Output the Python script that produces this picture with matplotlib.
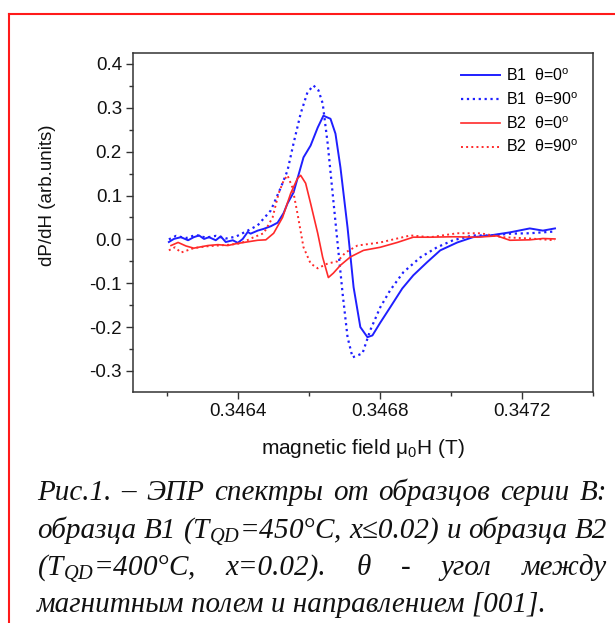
import numpy as np
import matplotlib
matplotlib.use("Agg")
import matplotlib.pyplot as plt
from matplotlib.ticker import MultipleLocator, FixedLocator, FormatStrFormatter
from matplotlib.lines import Line2D

plt.rcParams['font.family'] = ['Liberation Sans', 'DejaVu Sans']
plt.rcParams['mathtext.fontset'] = 'custom'
plt.rcParams['mathtext.rm'] = 'Liberation Sans'
plt.rcParams['mathtext.default'] = 'regular'
plt.rcParams['axes.unicode_minus'] = False

## EPR spectra: field in T, dP/dH in arb. units

# B1, theta = 0 (solid blue)
field_b1_0 = [0.346206, 0.346220, 0.346240, 0.346260, 0.346276, 0.346291, 0.346305,
              0.346319, 0.346338, 0.346352, 0.346366, 0.346386, 0.346400, 0.346414,
              0.346428, 0.346436, 0.346456, 0.346473, 0.346493, 0.346512, 0.346529,
              0.346540, 0.346557, 0.346585, 0.346605, 0.346625, 0.346641, 0.346661,
              0.346675, 0.346689, 0.346709, 0.346726, 0.346745, 0.346765, 0.346779,
              0.346801, 0.346829, 0.346863, 0.346894, 0.346933, 0.346970, 0.347018,
              0.347062, 0.347110, 0.347166, 0.347222, 0.347259, 0.347293]
dpdh_b1_0 = [-0.006, 0.001, 0.005, -0.002, 0.005, 0.009, 0.001,
             0.005, -0.002, 0.007, -0.006, -0.002, -0.008, 0.001,
             0.017, 0.013, 0.020, 0.024, 0.030, 0.038, 0.060,
             0.082, 0.107, 0.187, 0.214, 0.255, 0.282, 0.275,
             0.241, 0.164, 0.027, -0.109, -0.200, -0.223, -0.219,
             -0.190, -0.155, -0.112, -0.082, -0.052, -0.025, -0.007,
             0.005, 0.009, 0.016, 0.025, 0.020, 0.025]

# B1, theta = 90 (dotted blue)
field_b1_90 = [0.346206, 0.346226, 0.346254, 0.346282, 0.346310, 0.346338, 0.346366,
               0.346394, 0.346428, 0.346456, 0.346493, 0.346521, 0.346540, 0.346557,
               0.346577, 0.346596, 0.346613, 0.346627, 0.346639, 0.346653, 0.346667,
               0.346681, 0.346695, 0.346709, 0.346723, 0.346751, 0.346773, 0.346801,
               0.346829, 0.346866, 0.346914, 0.346961, 0.347006, 0.347062, 0.347119,
               0.347166, 0.347222, 0.347293]
dpdh_b1_90 = [0.000, 0.008, 0.003, 0.010, 0.004, 0.008, 0.002,
              0.006, 0.020, 0.032, 0.066, 0.118, 0.157, 0.219,
              0.287, 0.335, 0.351, 0.340, 0.310, 0.219, 0.105,
              -0.009, -0.123, -0.223, -0.269, -0.260, -0.207, -0.155,
              -0.116, -0.075, -0.041, -0.018, -0.002, 0.009, 0.009,
              0.013, 0.014, 0.018]

# B2, theta = 0 (solid red)
field_b2_0 = [0.346212, 0.346232, 0.346254, 0.346276, 0.346316, 0.346344, 0.346372,
              0.346394, 0.346417, 0.346456, 0.346479, 0.346501, 0.346526, 0.346549,
              0.346568, 0.346577, 0.346591, 0.346605, 0.346625, 0.346639, 0.346655,
              0.346669, 0.346689, 0.346717, 0.346754, 0.346801, 0.346849, 0.346894,
              0.346942, 0.347006, 0.347074, 0.347130, 0.347166, 0.347222, 0.347259,
              0.347293]
dpdh_b2_0 = [-0.014, -0.007, -0.015, -0.020, -0.014, -0.012, -0.014,
             -0.010, -0.007, -0.002, -0.001, 0.014, 0.050, 0.105,
             0.139, 0.146, 0.128, 0.082, 0.014, -0.041, -0.087,
             -0.077, -0.059, -0.040, -0.025, -0.018, -0.007, 0.005,
             0.005, 0.006, 0.005, 0.008, -0.002, -0.001, 0.002,
             0.001]

# B2, theta = 90 (dotted red)
field_b2_90 = [0.346206, 0.346223, 0.346240, 0.346276, 0.346310, 0.346344, 0.346380,
               0.346408, 0.346445, 0.346473, 0.346498, 0.346515, 0.346529, 0.346540,
               0.346554, 0.346568, 0.346585, 0.346605, 0.346625, 0.346653, 0.346681,
               0.346703, 0.346737, 0.346801, 0.346886, 0.346942, 0.347018, 0.347082,
               0.347147, 0.347222, 0.347293]
dpdh_b2_90 = [-0.025, -0.018, -0.030, -0.020, -0.016, -0.014, -0.012,
              -0.009, 0.005, 0.014, 0.050, 0.105, 0.134, 0.146,
              0.118, 0.059, -0.018, -0.055, -0.066, -0.055, -0.050,
              -0.030, -0.014, -0.007, 0.009, 0.005, 0.014, 0.014,
              0.005, 0.002, -0.002]

labels = ['B1  θ=0$^{o}$', 'B1  θ=90$^{o}$', 'B2  θ=0$^{o}$', 'B2  θ=90$^{o}$']
x_ticks = [0.3464, 0.3468, 0.3472]

caption_lines = [
    "Рис.1. – ЭПР спектры от образцов  серии B:",
    "образца B1 (T$_{QD}$=450°C, x≤0.02) и образца B2",
    "(T$_{QD}$=400°C,  x=0.02).  θ  -  угол  между",
    "магнитным полем и направлением [001].",
]

W, H = 615, 623
fig = plt.figure(figsize=(W / 100, H / 100), dpi=100)
ax = fig.add_axes([133 / W, 1 - 392 / H, (593 - 133) / W, (392 - 53) / H])

blue = '#1f1fff'
red = '#ff2a2a'
ax.plot(field_b1_0, dpdh_b1_0, color=blue, lw=1.4, label=labels[0])
ax.plot(field_b1_90, dpdh_b1_90, color=blue, lw=1.6, ls=':', label=labels[1])
ax.plot(field_b2_0, dpdh_b2_0, color=red, lw=1.2, label=labels[2])
ax.plot(field_b2_90, dpdh_b2_90, color=red, lw=1.4, ls=':', label=labels[3])

ax.set_xlim(0.346105, 0.3474)
ax.set_ylim(-0.348, 0.425)
ax.xaxis.set_major_locator(FixedLocator(x_ticks))
ax.xaxis.set_minor_locator(MultipleLocator(0.0002))
ax.xaxis.set_major_formatter(FormatStrFormatter('%.4f'))
ax.yaxis.set_major_locator(MultipleLocator(0.1))
ax.yaxis.set_minor_locator(MultipleLocator(0.05))
ax.yaxis.set_major_formatter(FormatStrFormatter('%.1f'))
ax.tick_params(which='both', direction='out', color='#333333', width=1.0,
               labelsize=13.5, labelcolor='#111111')
ax.tick_params(which='major', length=5, pad=3)
ax.tick_params(which='minor', length=3)
for s in ax.spines.values():
    s.set_linewidth(1.1)
    s.set_color('#333333')

ax.set_xlabel('magnetic field μ$_0$H (T)', fontsize=15, labelpad=12, color='#111111')
ax.set_ylabel('dP/dH (arb.units)', fontsize=13.5, color='#111111')
ax.yaxis.set_label_coords(-0.167, 0.58)

ax.legend(loc='upper right', bbox_to_anchor=(1.0, 1.0), frameon=False,
          fontsize=11.5, handlelength=2.4, handletextpad=0.4, labelspacing=0.45,
          borderaxespad=0.5)

# red frame: top and left edges only (the rest is cut off)
frame_kw = dict(color='#ff1a1a', lw=1.5, transform=fig.transFigure)
fig.add_artist(Line2D([8.5 / W, 1.0], [1 - 14 / H, 1 - 14 / H], **frame_kw))
fig.add_artist(Line2D([8.5 / W, 8.5 / W], [1 - 14 / H, 0.0], **frame_kw))

# justified caption
renderer = fig.canvas.get_renderer()
x0, x1 = 37, 607
base_y = [500, 537.5, 575, 612.5]
cap_kw = dict(family=['Liberation Serif', 'DejaVu Serif'], style='italic',
              fontsize=21, va='baseline', color='#111111')
for i, (line, yb) in enumerate(zip(caption_lines, base_y)):
    if i == len(caption_lines) - 1:
        fig.text(x0 / W, 1 - yb / H, line, ha='left', **cap_kw)
        continue
    words = line.split()
    txts = [fig.text(0, 1 - yb / H, w, ha='left', **cap_kw) for w in words]
    widths = [t.get_window_extent(renderer).width for t in txts]
    gap = (x1 - x0 - sum(widths)) / (len(words) - 1)
    x = x0
    for t, w in zip(txts, widths):
        t.set_x(x / W)
        x += w + gap

fig.savefig('out.png', dpi=100)
